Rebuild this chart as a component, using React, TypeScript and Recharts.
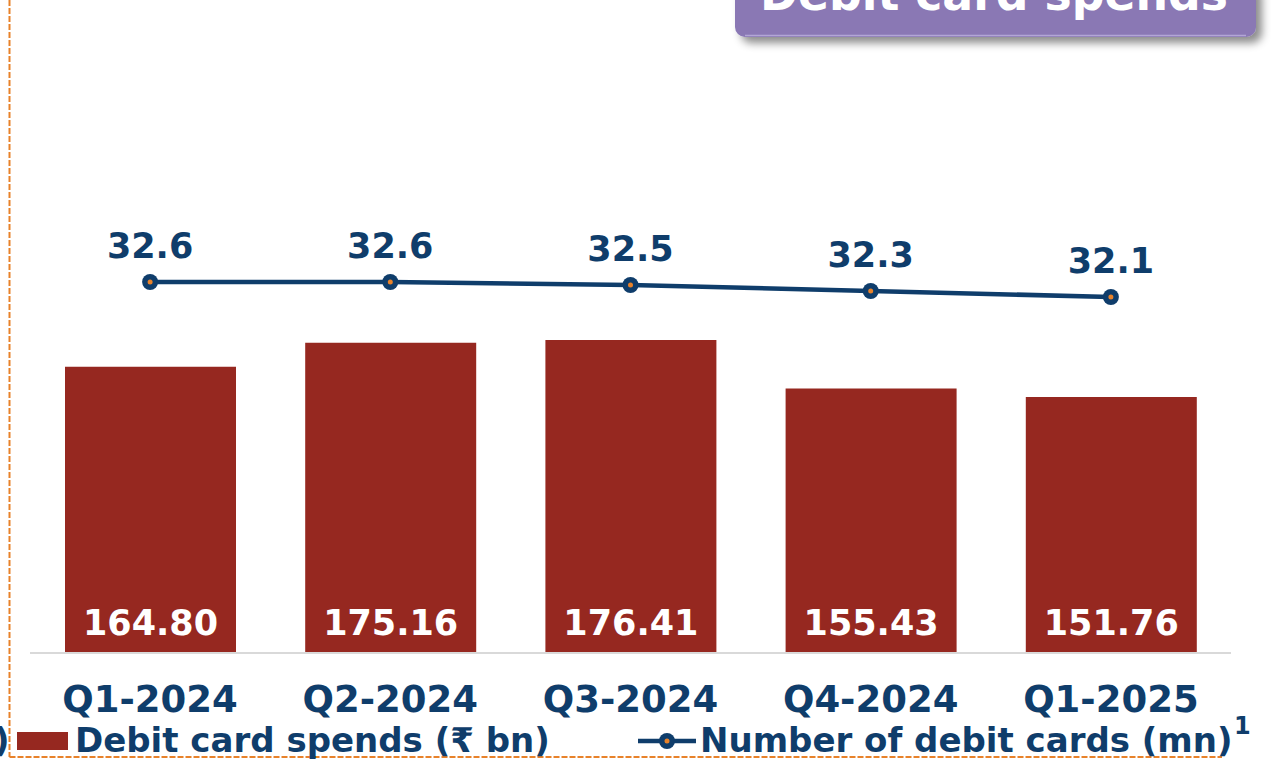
import React from 'react';
import { ComposedChart, Bar, Line, XAxis, YAxis, LabelList } from 'recharts';

const quarters = ['Q1-2024', 'Q2-2024', 'Q3-2024', 'Q4-2024', 'Q1-2025'];
const spends = [164.8, 175.16, 176.41, 155.43, 151.76];
const cards = [32.6, 32.6, 32.5, 32.3, 32.1];

const data = quarters.map((q, i) => ({ q, spends: spends[i], cards: cards[i] }));

const NAVY = '#0f3d6b';
const RED = '#962820';
const ORANGE = '#e8822a';
const PURPLE = '#8a78b4';
const FONT = '"DejaVu Sans", Verdana, sans-serif';

const Tick = (props: any) => {
  const { x, y, payload } = props;
  return (
    <text x={x} y={y} dy={51} textAnchor="middle" fill={NAVY} fontFamily={FONT} fontWeight="bold" fontSize={37}>
      {payload.value}
    </text>
  );
};

const Dot = (props: any) => {
  const { cx, cy } = props;
  return (
    <g>
      <circle cx={cx} cy={cy} r={8} fill={NAVY} />
      <circle cx={cx} cy={cy} r={2.5} fill={ORANGE} />
    </g>
  );
};

export default function App() {
  return (
    <div style={{ position: 'absolute', left: 0, top: 0, width: 1271, height: 761, overflow: 'hidden', background: '#fff' }}>
      <ComposedChart
        width={1271}
        height={761}
        data={data}
        margin={{ top: 60, right: 40, bottom: 0, left: 30 }}
      >
        <XAxis
          dataKey="q"
          xAxisId="x"
          tickLine={false}
          axisLine={{ stroke: '#d9d9d9', strokeWidth: 2 }}
          tick={<Tick />}
          height={108}
          interval={0}
        />
        <YAxis yAxisId="left" hide domain={[41, 297.5]} allowDataOverflow />
        <YAxis yAxisId="right" orientation="right" hide domain={[20.233, 40]} allowDataOverflow />
        <Bar dataKey="spends" xAxisId="x" yAxisId="left" fill={RED} barSize={171} isAnimationActive={false}>
          <LabelList
            dataKey="spends"
            position="insideBottom"
            offset={18}
            fill="#ffffff"
            fontFamily={FONT}
            fontWeight="bold"
            fontSize={35}
            formatter={(v: any) => Number(v).toFixed(2)}
          />
        </Bar>
        <Line
          dataKey="cards"
          xAxisId="x"
          yAxisId="right"
          stroke={NAVY}
          strokeWidth={4.5}
          dot={<Dot />}
          activeDot={false}
          isAnimationActive={false}
        >
          <LabelList
            dataKey="cards"
            position="top"
            offset={24}
            fill={NAVY}
            fontFamily={FONT}
            fontWeight="bold"
            fontSize={35}
            formatter={(v: any) => Number(v).toFixed(1)}
          />
        </Line>
      </ComposedChart>
      <svg width={1271} height={761} style={{ position: 'absolute', left: 0, top: 0, pointerEvents: 'none' }}>
        <defs>
          <filter id="sh" x="-10%" y="-50%" width="130%" height="250%">
            <feDropShadow dx="6" dy="6" stdDeviation="4" floodColor="#000" floodOpacity="0.45" />
          </filter>
        </defs>
        <rect x={735} y={-20} width={521} height={57} rx={10} fill={PURPLE} filter="url(#sh)" />
        <line x1={745} x2={1246} y1={35.5} y2={35.5} stroke="#b3a6d6" strokeWidth={1.5} />
        <text x={994} y={10} textAnchor="middle" fill="#fff" fontFamily={FONT} fontWeight="bold" fontSize={46} textLength={468} lengthAdjust="spacingAndGlyphs">
          Debit card spends
        </text>
        <line x1={9.5} x2={9.5} y1={0} y2={757} stroke={ORANGE} strokeWidth={2} strokeDasharray="6 2" />
        <line x1={9.5} x2={1222} y1={757} y2={757} stroke={ORANGE} strokeWidth={2} strokeDasharray="6 2" />
        <text x={-6} y={752} fill={NAVY} fontFamily={FONT} fontWeight="bold" fontSize={34}>)</text>
        <rect x={17} y={732} width={51} height={18} fill={RED} />
        <text x={75} y={752} fill={NAVY} fontFamily={FONT} fontWeight="bold" fontSize={34}>
          Debit card spends (₹ bn)
        </text>
        <line x1={638} x2={696} y1={741} y2={741} stroke={NAVY} strokeWidth={4.5} />
        <circle cx={667} cy={741} r={8} fill={NAVY} />
        <circle cx={667} cy={741} r={2.5} fill={ORANGE} />
        <text x={700} y={752} fill={NAVY} fontFamily={FONT} fontWeight="bold" fontSize={34}>
          Number of debit cards (mn)
        </text>
        <text x={1234} y={734} fill={NAVY} fontFamily={FONT} fontWeight="bold" fontSize={24}>1</text>
      </svg>
    </div>
  );
}
